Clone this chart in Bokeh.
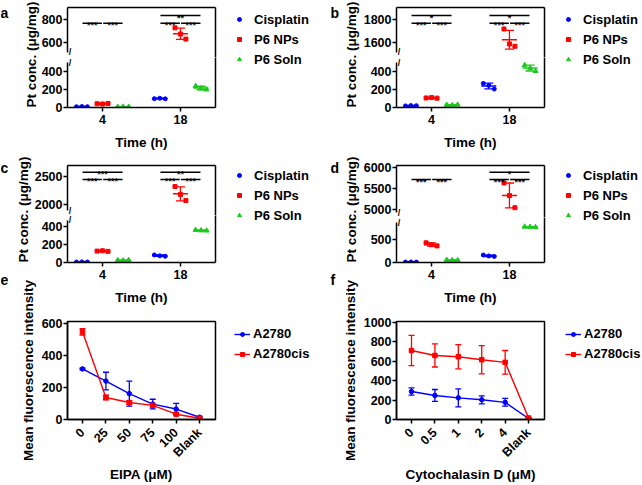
import math
import numpy as np
from bokeh.plotting import figure
from bokeh.layouts import row, column
from bokeh.models import (Range1d, LinearAxis, FixedTicker, ColumnDataSource, Whisker,
                          TeeHead, Legend, LegendItem)
from bokeh.embed import file_html
from bokeh.resources import INLINE
from bokeh.core.properties import value

FONT = "Liberation Sans"
GROUPS = ["Cisplatin", "P6 NPs", "P6 Soln"]
TIMES = ["4", "18"]
COLORS = ["#0000FF", "#FF0000", "#1EC81E"]
MARKERS = ["circle", "square", "triangle"]
CELLS = ["A2780", "A2780cis"]
CELL_COLORS = ["#0000FF", "#FF0000"]
CELL_MARKERS = ["circle", "square"]

# ---- panel a : replicates [4 h, 18 h] ----
a_cisplatin = [[8, 11, 9], [98, 103, 96]]
a_p6_nps = [[42, 39, 45], [730, 676, 632]]
a_p6_soln = [[7, 9, 8], [238, 212, 200]]
a_lower_ticks = [0, 200, 400]
a_upper_ticks = [600, 800]
a_sig = [("4", "Cisplatin", "P6 NPs", 770, "***"), ("4", "P6 NPs", "P6 Soln", 770, "***"),
         ("18", "Cisplatin", "P6 NPs", 770, "***"), ("18", "P6 NPs", "P6 Soln", 770, "***"),
         ("18", "Cisplatin", "P6 Soln", 837, "**")]

# ---- panel b ----
b_cisplatin = [[18, 22, 20], [268, 245, 205]]
b_p6_nps = [[106, 110, 104], [1720, 1590, 1570]]
b_p6_soln = [[28, 25, 30], [470, 440, 405]]
b_lower_ticks = [0, 200, 400]
b_upper_ticks = [1600, 1800]
b_sig = [("4", "Cisplatin", "P6 NPs", 1770, "***"), ("4", "P6 NPs", "P6 Soln", 1770, "***"),
         ("4", "Cisplatin", "P6 Soln", 1837, "*"),
         ("18", "Cisplatin", "P6 NPs", 1770, "***"), ("18", "P6 NPs", "P6 Soln", 1770, "***"),
         ("18", "Cisplatin", "P6 Soln", 1837, "*")]

# ---- panel c ----
c_cisplatin = [[5, 7, 6], [85, 75, 70]]
c_p6_nps = [[128, 132, 125], [2320, 2180, 2070]]
c_p6_soln = [[25, 22, 27], [365, 360, 358]]
c_lower_ticks = [0, 200, 400]
c_upper_ticks = [2000, 2500]
c_sig = [("4", "Cisplatin", "P6 NPs", 2446, "***"), ("4", "P6 NPs", "P6 Soln", 2446, "***"),
         ("4", "Cisplatin", "P6 Soln", 2577, "***"),
         ("18", "Cisplatin", "P6 NPs", 2446, "***"), ("18", "P6 NPs", "P6 Soln", 2446, "***"),
         ("18", "Cisplatin", "P6 Soln", 2577, "**")]

# ---- panel d ----
d_cisplatin = [[10, 12, 9], [160, 140, 130]]
d_p6_nps = [[420, 380, 355], [5640, 5340, 5050]]
d_p6_soln = [[55, 50, 48], [765, 760, 755]]
d_lower_ticks = [0, 500]
d_upper_ticks = [5000, 5500, 6000]
d_sig = [("4", "Cisplatin", "P6 NPs", 5721, "***"), ("4", "P6 NPs", "P6 Soln", 5721, "***"),
         ("18", "Cisplatin", "P6 NPs", 5721, "***"), ("18", "P6 NPs", "P6 Soln", 5721, "***"),
         ("18", "Cisplatin", "P6 Soln", 5895, "*")]

# ---- panel e ----
e_cats = ["0", "25", "50", "75", "100", "Blank"]
e_a2780 = [315, 239, 161, 96, 65, 14]
e_a2780_sd = [5, 55, 78, 30, 35, 6]
e_a2780cis = [546, 137, 106, 88, 33, 8]
e_a2780cis_sd = [20, 14, 12, 10, 6, 3]
e_yticks = [0, 200, 400, 600]

# ---- panel f ----
f_cats = ["0", "0.5", "1", "2", "4", "Blank"]
f_a2780 = [288, 248, 223, 203, 177, 10]
f_a2780_sd = [37, 61, 92, 41, 40, 3]
f_a2780cis = [711, 660, 647, 616, 589, 15]
f_a2780cis_sd = [156, 119, 125, 145, 122, 3]
f_yticks = [0, 200, 400, 600, 800, 1000]

Y_LABEL = "Pt conc. (\u03bcg/mg)"

# ---- layout constants ----
GROUP_OFFSETS = [-0.265, 0.0, 0.265]
JITTER = [-0.07, 0.0, 0.07]
X_START, X_END = -0.45, 1.45
FRAME_W = 148
TICK_FONT = "12.5px"
LABEL_FONT = "13.5px"
PAGE_W, PAGE_H = 642, 485
LW, RW = 330, 312
LML, RML = 67, 66


def style_axis(ax):
    ax.axis_line_width = 1.5
    ax.axis_line_color = "black"
    ax.major_tick_line_width = 1.5
    ax.major_tick_line_color = "black"
    ax.major_tick_out = 4
    ax.major_tick_in = 0
    ax.minor_tick_out = 0
    ax.minor_tick_in = 0
    ax.major_label_text_font = FONT
    ax.major_label_text_font_style = "bold"
    ax.major_label_text_font_size = TICK_FONT
    ax.major_label_text_color = "black"
    ax.major_label_standoff = 1
    ax.axis_label_text_font = FONT
    ax.axis_label_text_font_style = "bold"
    ax.axis_label_text_font_size = LABEL_FONT
    ax.axis_label_text_color = "black"
    ax.axis_label_standoff = 3


def border_axis():
    return LinearAxis(ticker=FixedTicker(ticks=[]), major_tick_out=0, major_tick_in=0,
                      minor_tick_out=0, minor_tick_in=0, major_label_standoff=0,
                      axis_line_width=1.5, axis_line_color="black")


def base_fig(width, height, xr, yr, mb_left, mb_top, mb_bottom):
    p = figure(width=width, height=height, x_range=xr, y_range=yr, title=None,
               output_backend="svg", toolbar_location=None,
               x_axis_location=None, y_axis_location=None,
               min_border_left=mb_left, min_border_right=width - mb_left - FRAME_W,
               min_border_top=mb_top, min_border_bottom=mb_bottom)
    p.xgrid.visible = False
    p.ygrid.visible = False
    p.border_fill_color = None
    p.background_fill_color = None
    p.outline_line_color = None
    return p


def break_mark(p, yv):
    p.text(x=[X_START], y=[yv], text=["/"], x_offset=2.5, text_font=value(FONT),
           text_font_size="9px", text_font_style="bold", text_align="center",
           text_baseline="middle", text_color="black")


def broken_panel(series, sig, lower_rng, upper_rng, lower_bound, upper_bound,
                 lower_ticks, upper_ticks, width, mb_left, top_border, upper_h, lower_h, bottom_border):
    xr = Range1d(X_START, X_END)
    up = base_fig(width, top_border + upper_h, xr, Range1d(*upper_rng), mb_left, top_border, 0)
    lo = base_fig(width, lower_h + bottom_border, xr, Range1d(*lower_rng), mb_left, 0, bottom_border)

    ua = LinearAxis(ticker=FixedTicker(ticks=upper_ticks), bounds=(upper_bound, upper_rng[1]))
    style_axis(ua)
    up.add_layout(ua, "left")
    up.add_layout(border_axis(), "above")
    up.add_layout(border_axis(), "right")

    la = LinearAxis(ticker=FixedTicker(ticks=lower_ticks), bounds=(lower_rng[0], lower_bound))
    style_axis(la)
    lo.add_layout(la, "left")
    xa = LinearAxis(ticker=FixedTicker(ticks=[0, 1]),
                    major_label_overrides={0: TIMES[0], 1: TIMES[1]}, axis_label="Time (h)")
    style_axis(xa)
    xa.major_label_standoff = 3
    xa.axis_label_standoff = 8
    lo.add_layout(xa, "below")
    lo.add_layout(border_axis(), "right")

    break_mark(up, upper_bound)
    break_mark(lo, lower_bound)

    for gi, reps_by_time in enumerate(series):
        col = COLORS[gi]
        for ti, reps in enumerate(reps_by_time):
            reps = np.asarray(reps, dtype=float)
            m = float(reps.mean())
            sd = float(reps.std(ddof=1))
            p = up if m > lower_bound else lo
            xc = ti + GROUP_OFFSETS[gi]
            pts = ColumnDataSource(dict(x=[xc + j for j in JITTER], y=list(reps)))
            p.scatter("x", "y", source=pts, marker=MARKERS[gi], size=4 if gi < 2 else 5,
                      fill_color=col, line_color=col)
            st = ColumnDataSource(dict(x=[xc], m=[m], lo=[m - sd], hi=[m + sd]))
            p.scatter("x", "m", source=st, marker="dash", size=15, line_color=col, line_width=1.5)
            p.add_layout(Whisker(source=st, base="x", lower="lo", upper="hi", dimension="height",
                                 line_color=col, line_width=1.3,
                                 upper_head=TeeHead(size=9, line_color=col, line_width=1.3),
                                 lower_head=TeeHead(size=9, line_color=col, line_width=1.3)))

    offs = dict(zip(GROUPS, GROUP_OFFSETS))
    x0s, x1s, ys, xm, txt = [], [], [], [], []
    for (t, g1, g2, level, stars) in sig:
        ti = TIMES.index(t)
        xa0 = ti + offs[g1] + 0.008
        xb0 = ti + offs[g2] - 0.008
        x0s.append(xa0); x1s.append(xb0); ys.append(level); xm.append((xa0 + xb0) / 2); txt.append(stars)
    ssrc = ColumnDataSource(dict(x0=x0s, x1=x1s, y=ys, xm=xm, txt=txt))
    up.segment(x0="x0", y0="y", x1="x1", y1="y", source=ssrc, line_color="black", line_width=1.5)
    up.text(x="xm", y="y", text="txt", source=ssrc, text_font=value(FONT), text_font_size="9px",
            text_font_style="bold", text_align="center", text_baseline="alphabetic",
            y_offset=2, text_color="black")
    return column(up, lo)


def line_panel(cats, blue, blue_sd, red, red_sd, y_end, yticks, xlabel, width, mb_left):
    p = base_fig(width, 215, Range1d(-0.64, 5.68), Range1d(0, y_end), mb_left, 51, 65)
    p.outline_line_color = "black"
    p.outline_line_width = 1.5
    xs = list(range(len(cats)))
    xax = LinearAxis(ticker=FixedTicker(ticks=xs),
                     major_label_overrides={i: c for i, c in enumerate(cats)},
                     axis_label=xlabel, major_label_orientation=math.pi / 4)
    style_axis(xax)
    xax.major_label_standoff = 7
    xax.axis_label_standoff = 0
    p.add_layout(xax, "below")
    yax = LinearAxis(ticker=FixedTicker(ticks=yticks), axis_label="Mean fluorescence intensity")
    style_axis(yax)
    p.add_layout(yax, "left")
    for vals, sds, col, mk in ((blue, blue_sd, CELL_COLORS[0], CELL_MARKERS[0]),
                               (red, red_sd, CELL_COLORS[1], CELL_MARKERS[1])):
        src = ColumnDataSource(dict(x=xs, y=vals,
                                    lo=[v - s for v, s in zip(vals, sds)],
                                    hi=[v + s for v, s in zip(vals, sds)]))
        p.add_layout(Whisker(source=src, base="x", lower="lo", upper="hi", dimension="height",
                             line_color=col, line_width=1.3,
                             upper_head=TeeHead(size=6, line_color=col, line_width=1.3),
                             lower_head=TeeHead(size=6, line_color=col, line_width=1.3)))
        p.line("x", "y", source=src, line_color=col, line_width=1.4)
        p.scatter("x", "y", source=src, marker=mk, size=4.5, fill_color=col, line_color=col)
    return p


col_a = broken_panel([a_cisplatin, a_p6_nps, a_p6_soln], a_sig, (0, 556), (472, 907), 500, 518,
                     a_lower_ticks, a_upper_ticks, LW, LML, 7, 50, 50, 51)
col_b = broken_panel([b_cisplatin, b_p6_nps, b_p6_soln], b_sig, (0, 556), (1472, 1907), 500, 1518,
                     b_lower_ticks, b_upper_ticks, RW, RML, 7, 50, 50, 51)
col_c = broken_panel([c_cisplatin, c_p6_nps, c_p6_soln], c_sig, (0, 528), (1803, 2696), 472, 1892,
                     c_lower_ticks, c_upper_ticks, LW, LML, 7, 50, 47, 48)
col_d = broken_panel([d_cisplatin, d_p6_nps, d_p6_soln], d_sig, (0, 962), (4817, 6055), 855, 4936,
                     d_lower_ticks, d_upper_ticks, RW, RML, 7, 52, 45, 48)
pe = line_panel(e_cats, e_a2780, e_a2780_sd, e_a2780cis, e_a2780cis_sd, 610, e_yticks,
                "EIPA (\u03bcM)", LW, LML)
pf = line_panel(f_cats, f_a2780, f_a2780_sd, f_a2780cis, f_a2780cis_sd, 1010, f_yticks,
                "Cytochalasin D (\u03bcM)", RW, RML)

# ---- overlay: panel letters, shared y labels and legends (page pixel space) ----
ov = figure(width=PAGE_W, height=PAGE_H, x_range=Range1d(0, PAGE_W), y_range=Range1d(0, PAGE_H),
            title=None, output_backend="svg", toolbar_location=None,
            x_axis_location=None, y_axis_location=None,
            min_border=0, min_border_left=0, min_border_right=0, min_border_top=0, min_border_bottom=0)
ov.xgrid.visible = False
ov.ygrid.visible = False
ov.outline_line_color = None
ov.border_fill_color = None
ov.background_fill_color = None


def py(img_y):
    return PAGE_H - img_y


letters = ColumnDataSource(dict(x=[0, 330, 0, 330, 0, 330],
                                y=[py(12), py(12), py(167), py(167), py(279), py(279)],
                                t=["a", "b", "c", "d", "e", "f"]))
ov.text(x="x", y="y", text="t", source=letters, text_font=value(FONT), text_font_style="bold",
        text_font_size="14px", text_align="left", text_baseline="alphabetic", text_color="black")
ylabs = ColumnDataSource(dict(x=[31, 351, 23, 351], y=[py(54), py(54), py(209), py(209)],
                              t=[Y_LABEL] * 4))
ov.text(x="x", y="y", text="t", source=ylabs, angle=math.pi / 2, text_font=value(FONT),
        text_font_style="bold", text_font_size=LABEL_FONT, text_align="center",
        text_baseline="middle", text_color="black")

# legend key glyphs (their points lie outside the visible page)
off = dict(x=[-100, -90], y=[-100, -100])
grp_r = [ov.scatter("x", "y", source=ColumnDataSource(off), marker=MARKERS[i],
                    size=4.5 if i < 2 else 5.5, fill_color=COLORS[i], line_color=COLORS[i])
         for i in range(3)]
cell_r = []
for i in range(2):
    ln = ov.line("x", "y", source=ColumnDataSource(off), line_color=CELL_COLORS[i], line_width=1.4)
    sc = ov.scatter("x", "y", source=ColumnDataSource(off), marker=CELL_MARKERS[i], size=4.5,
                    fill_color=CELL_COLORS[i], line_color=CELL_COLORS[i])
    cell_r.append([ln, sc])


def make_legend(items, loc, gw, standoff):
    return Legend(items=items, location=loc, glyph_width=gw, glyph_height=10, label_standoff=standoff,
                  padding=0, spacing=5, margin=0, border_line_color=None, background_fill_alpha=0,
                  label_text_font=FONT, label_text_font_style="bold", label_text_font_size="13px",
                  label_text_color="black")


for loc in [(234, py(66.5)), (563, py(66.5)), (234, py(222.5)), (563, py(222.5))]:
    ov.add_layout(make_legend([LegendItem(label=g, renderers=[r]) for g, r in zip(GROUPS, grp_r)],
                              loc, 10, 10))
for loc in [(234, py(361)), (565, py(361))]:
    ov.add_layout(make_legend([LegendItem(label=c, renderers=r) for c, r in zip(CELLS, cell_r)],
                              loc, 16, 3))

layout = column(row(col_a, col_b), row(col_c, col_d), row(pe, pf, margin=(-40, 0, 0, 0)),
                row(ov, margin=(-PAGE_H, 0, 0, 0)))

open("out.html", "w").write(file_html(layout, INLINE))
